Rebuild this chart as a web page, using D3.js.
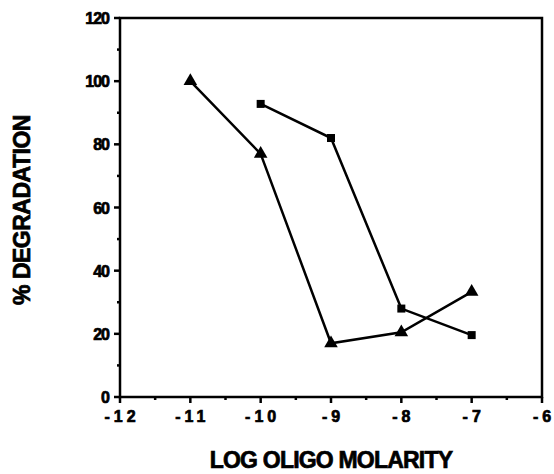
<!DOCTYPE html>
<html lang="en">
<head>
<meta charset="utf-8">
<script src="https://d3js.org/d3.v7.min.js"></script>
<style>
  body { margin: 0; background: #fff; }
  text { font-family: "Liberation Sans", Arial, sans-serif; font-weight: bold; fill: #000;
         stroke: #000; stroke-width: 0.7px; }
</style>
</head>
<body>
<div id="chart"></div>
<script>
// data
const triX = [-11, -10, -9, -8, -7];
const triY = [100, 77, 17, 20.5, 33.3];
const sqX = [-10, -9, -8, -7];
const sqY = [92.8, 82, 28, 19.6];
const xTicks = [-12, -11, -10, -9, -8, -7, -6];
const yTicks = [0, 20, 40, 60, 80, 100, 120];

const W = 554, H = 474;
const margin = {top: 18, right: 12, bottom: 77, left: 120};
const width = W - margin.left - margin.right,
      height = H - margin.top - margin.bottom;

const svg = d3.select("#chart").append("svg")
    .attr("width", W).attr("height", H);
const g = svg.append("g")
    .attr("transform", `translate(${margin.left},${margin.top})`);

const x = d3.scaleLinear().domain([-12, -6]).range([0, width]);
const y = d3.scaleLinear().domain([0, 120]).range([height, 0]);

// frame
g.append("rect")
  .attr("x", 0).attr("y", 0)
  .attr("width", width).attr("height", height)
  .attr("fill", "none").attr("stroke", "#000").attr("stroke-width", 2.5);

// x ticks
g.selectAll(".xmaj").data(xTicks).enter().append("line")
  .attr("x1", d => x(d)).attr("x2", d => x(d))
  .attr("y1", height).attr("y2", height + 6)
  .attr("stroke", "#000").attr("stroke-width", 2.5);
g.selectAll(".xmin").data(d3.range(-11.5, -6, 1)).enter().append("line")
  .attr("x1", d => x(d)).attr("x2", d => x(d))
  .attr("y1", height).attr("y2", height + 3)
  .attr("stroke", "#000").attr("stroke-width", 2.5);
g.selectAll(".xlab").data(xTicks).enter().append("text")
  .attr("x", d => x(d) + 2).attr("y", height + 25)
  .attr("text-anchor", "middle")
  .style("font-size", "16px").style("letter-spacing", "4px")
  .text(d => "-" + Math.abs(d));

// y ticks
g.selectAll(".ymaj").data(yTicks).enter().append("line")
  .attr("x1", -6).attr("x2", 0)
  .attr("y1", d => y(d)).attr("y2", d => y(d))
  .attr("stroke", "#000").attr("stroke-width", 2.5);
g.selectAll(".ymin").data(d3.range(10, 120, 20)).enter().append("line")
  .attr("x1", -3).attr("x2", 0)
  .attr("y1", d => y(d)).attr("y2", d => y(d))
  .attr("stroke", "#000").attr("stroke-width", 2.5);
g.selectAll(".ylab").data(yTicks).enter().append("text")
  .attr("x", -11).attr("y", d => y(d) + 6)
  .attr("text-anchor", "end")
  .style("font-size", "16px").style("letter-spacing", "-1px")
  .text(d => d);

// axis titles
svg.append("text")
  .attr("transform", `translate(30,${margin.top + 192}) rotate(-90)`)
  .attr("text-anchor", "middle")
  .style("font-size", "23px").style("letter-spacing", "-0.5px")
  .text("% DEGRADATION");
svg.append("text")
  .attr("x", 331).attr("y", 468)
  .attr("text-anchor", "middle")
  .style("font-size", "23px").style("letter-spacing", "-0.8px")
  .text("LOG OLIGO MOLARITY");

const line = d3.line().x(d => x(d[0])).y(d => y(d[1]));
const tri = triX.map((v, i) => [v, triY[i]]);
const sq = sqX.map((v, i) => [v, sqY[i]]);

g.append("path").datum(tri).attr("d", line)
  .attr("fill", "none").attr("stroke", "#000").attr("stroke-width", 2.5);
g.append("path").datum(sq).attr("d", line)
  .attr("fill", "none").attr("stroke", "#000").attr("stroke-width", 2.5);

g.selectAll(".tri").data(tri).enter().append("path")
  .attr("transform", d => `translate(${x(d[0])},${y(d[1])})`)
  .attr("d", d3.symbol().type(d3.symbolTriangle).size(80));
g.selectAll(".sq").data(sq).enter().append("rect")
  .attr("x", d => x(d[0]) - 4).attr("y", d => y(d[1]) - 4)
  .attr("width", 8).attr("height", 8);
</script>
</body>
</html>
